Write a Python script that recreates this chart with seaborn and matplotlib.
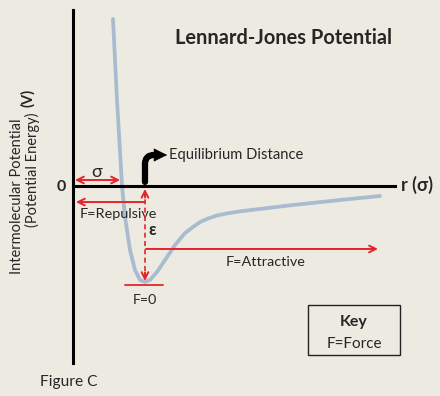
import matplotlib
matplotlib.use("Agg")
import matplotlib.pyplot as plt
import seaborn as sns
import pandas as pd
from matplotlib.patches import Rectangle

# Lennard-Jones curve (r in units of sigma, V in units of epsilon)
r_sigma = [0.816, 0.898, 1.0, 1.061, 1.163, 1.265, 1.367, 1.469, 1.571, 1.714,
           1.878, 2.082, 2.286, 2.449, 2.592, 2.755, 2.939, 3.163, 3.469, 4.490,
           5.449, 6.265]
v_eps = [1.74, 0.896, 0.0, -0.323, -0.667, -0.875, -0.979, -1.0, -0.979, -0.896,
         -0.771, -0.615, -0.490, -0.427, -0.375, -0.339, -0.307, -0.284, -0.260, -0.198,
         -0.146, -0.104]

r_min = 1.469      # equilibrium distance
v_well = -1.0      # depth of the well (epsilon)

title = "Lennard-Jones Potential"
ylabel_1 = "Intermolecular Potential"
ylabel_2 = "(Potential Energy)"
ylabel_unit = "(V)"
xlabel = "r (σ)"

BG = "#EDEAE2"
RED = "#E5242B"
CURVE = "#A8BBCF"

sns.set_theme(style="white")
plt.rcParams["font.family"] = ["Lato", "DejaVu Sans"]

fig = plt.figure(figsize=(4.4, 3.96), dpi=100, facecolor=BG)
ax = fig.add_axes([0, 0, 1, 1])
ax.set_facecolor(BG)

df = pd.DataFrame({"r": r_sigma, "V": v_eps})
sns.lineplot(data=df, x="r", y="V", ax=ax, color=CURVE, lw=2.7, sort=False,
             solid_capstyle="round", zorder=2)

ax.set_xlim(-1.49, 7.49)
ax.set_ylim(-2.1875, 1.9375)
ax.set_xticks([])
ax.set_yticks([])
ax.set_xlabel("")
ax.set_ylabel("")

# axes drawn as spines crossing at the origin
for side in ["top", "right"]:
    ax.spines[side].set_visible(False)
ax.spines["left"].set_position(("data", 0))
ax.spines["bottom"].set_position(("data", 0))
ax.spines["left"].set_bounds(-1.844, 1.833)
ax.spines["bottom"].set_bounds(0, 6.57)
for side in ["left", "bottom"]:
    ax.spines[side].set_linewidth(2.2)
    ax.spines[side].set_color("black")
    ax.spines[side].set_zorder(3)

ax.text(4.306, 1.542, title, ha="center", va="center", fontsize=14.4, fontweight="bold")
ax.text(-0.245, -0.01, "0", ha="center", va="center", fontsize=11.5, fontweight="bold")
ax.text(6.69, 0.01, xlabel, ha="left", va="center", fontsize=13, fontweight="bold")

ax.text(-1.143, -0.104, ylabel_1, rotation=90, ha="center", va="center", fontsize=10.5)
ax.text(-0.837, 0.167, ylabel_2, rotation=90, ha="center", va="center", fontsize=10.5)
ax.text(-0.918, 0.917, ylabel_unit, rotation=90, ha="center", va="center", fontsize=10.5,
        fontweight="bold")

red_arrow = dict(arrowstyle="->", color=RED, lw=1.4, shrinkA=0, shrinkB=0,
                 mutation_scale=12)

# sigma
ax.annotate("", xy=(0.04, 0.0625), xytext=(0.96, 0.0625),
            arrowprops=dict(red_arrow, arrowstyle="<->"))
ax.text(0.49, 0.146, "σ", ha="center", va="center", fontsize=13)

# equilibrium distance (bent black arrow: thick stem + separate head)
ax.annotate("", xy=(1.75, 0.323), xytext=(1.469, 0.042),
            arrowprops=dict(arrowstyle="-", color="black", lw=4.5, shrinkA=0, shrinkB=0,
                            connectionstyle="angle,angleA=90,angleB=0,rad=9"))
ax.annotate("", xy=(1.92, 0.323), xytext=(1.72, 0.323),
            arrowprops=dict(arrowstyle="-|>", color="black", lw=0.5, shrinkA=0, shrinkB=0,
                            mutation_scale=22))
ax.text(1.96, 0.323, "Equilibrium Distance", ha="left", va="center", fontsize=10.6)

# repulsive force
ax.annotate("", xy=(0.06, -0.167), xytext=(r_min, -0.167), arrowprops=red_arrow)
ax.text(0.918, -0.292, "F=Repulsive", ha="center", va="center", fontsize=10.4)

# epsilon (dashed double arrow)
ax.plot([r_min, r_min], [-0.05, v_well + 0.03], color=RED, lw=1.2, ls=(0, (3, 2)), zorder=4)
ax.annotate("", xy=(r_min, -0.03), xytext=(r_min, -0.12), arrowprops=red_arrow, zorder=4)
ax.annotate("", xy=(r_min, v_well + 0.01), xytext=(r_min, v_well + 0.1),
            arrowprops=red_arrow, zorder=4)
ax.text(1.612, -0.458, "ε", ha="center", va="center", fontsize=12, fontweight="bold")

# attractive force
ax.annotate("", xy=(6.224, -0.656), xytext=(r_min + 0.02, -0.656), arrowprops=red_arrow)
ax.text(3.94, -0.79, "F=Attractive", ha="center", va="center", fontsize=10.4)

# F=0 at the bottom of the well
ax.plot([1.061, 1.837], [-1.03, -1.03], color=RED, lw=1.3)
ax.text(r_min, -1.1875, "F=0", ha="center", va="center", fontsize=10.2)

# key
ax.add_patch(Rectangle((4.796, -1.76), 1.877, 0.52, fill=False, ec="#222222", lw=1.0))
ax.text(5.735, -1.417, "Key", ha="center", va="center", fontsize=11.5, fontweight="bold")
ax.text(5.735, -1.646, "F=Force", ha="center", va="center", fontsize=11)

ax.text(-0.082, -2.042, "Figure C", ha="center", va="center", fontsize=11.2)

fig.savefig("out.png", dpi=100, facecolor=BG)
